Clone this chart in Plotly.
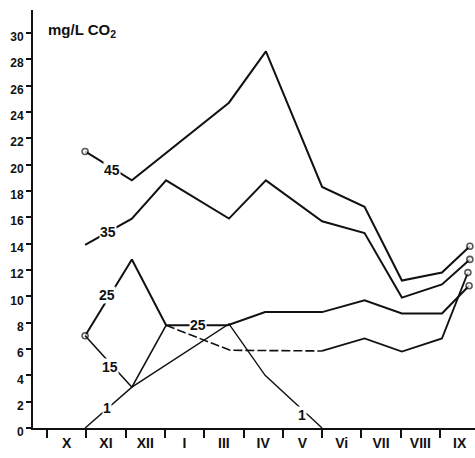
import plotly.graph_objects as go

# Month layout: tick boundaries at 0..10, labels centred between them
month_labels = ["X", "XI", "XII", "I", "III", "IV", "V", "Vi", "VII", "VIII", "IX"]
month_bounds = list(range(0, 11))
month_centres = [b + 0.5 for b in range(0, 11)]

# Series (x in month units from 1 Oct, y in mg/L CO2)
x45 = [0.97, 2.16, 4.63, 5.57, 7.0, 8.08, 9.03, 10.05, 10.76]
y45 = [21.0, 18.8, 24.7, 28.6, 18.3, 16.8, 11.2, 11.8, 13.8]

x35 = [0.97, 2.16, 3.03, 4.63, 5.57, 7.0, 8.08, 9.03, 10.05, 10.76]
y35 = [13.9, 15.9, 18.8, 15.9, 18.8, 15.7, 14.8, 9.9, 10.9, 12.8]

x25 = [0.97, 2.16, 3.03, 4.6, 5.55, 7.0, 8.08, 9.03, 10.05, 10.74]
y25 = [7.0, 12.8, 7.8, 7.8, 8.8, 8.8, 9.7, 8.7, 8.7, 10.8]

x15a = [0.97, 2.16, 3.03]
y15a = [7.0, 3.1, 7.8]
x15b = [3.03, 4.66, 7.0]
y15b = [7.8, 5.9, 5.85]
x15c = [7.0, 8.08, 9.03, 10.05, 10.71]
y15c = [5.85, 6.8, 5.8, 6.8, 11.8]

x1 = [0.97, 2.16, 4.63, 5.55, 7.0]
y1 = [0.0, 3.1, 7.9, 4.0, 0.0]

y_ticks = list(range(0, 31, 2))

INK = "#111111"
fig = go.Figure()

def line(x, y, width=2.0, dash="solid", start_marker=False, end_marker=False):
    sizes = [0] * len(x)
    if start_marker:
        sizes[0] = 6
    if end_marker:
        sizes[-1] = 6
    fig.add_trace(go.Scatter(
        x=x, y=y, mode="lines+markers",
        line=dict(color=INK, width=width, dash=dash),
        marker=dict(size=sizes, color="white", line=dict(color=INK, width=1.6)),
        showlegend=False, hoverinfo="skip", cliponaxis=False))

line(x45, y45, 2.0, start_marker=True, end_marker=True)
line(x35, y35, 2.0, end_marker=True)
line(x25, y25, 2.0, start_marker=True, end_marker=True)
line(x15a, y15a, 1.6)
line(x15b, y15b, 1.6, dash="9px,3px")
line(x15c, y15c, 1.8, end_marker=True)
line(x1, y1, 1.4)

# invisible trace for the label axis
fig.add_trace(go.Scatter(x=[0], y=[0], xaxis="x2", mode="markers",
                         marker=dict(opacity=0), showlegend=False, hoverinfo="skip"))

lab_font = dict(family="Liberation Sans", size=14, color=INK, weight="bold")
labels = [("45", 1.65, 19.6), ("35", 1.55, 14.9), ("25", 1.53, 10.1),
          ("15", 1.60, 4.6), ("1", 1.53, 1.5), ("25", 3.84, 7.8), ("1", 6.49, 1.0)]
for t, lx, ly in labels:
    fig.add_annotation(x=lx, y=ly, text=t, showarrow=False, font=lab_font,
                       bgcolor="white", borderpad=0)

fig.add_annotation(x=-0.03, y=30.2, text="mg/L CO<sub>2</sub>", showarrow=False,
                   xanchor="left", font=dict(family="Liberation Sans", size=15,
                                             color=INK, weight="bold"))

rng = [(33 - 47) / 39.3, (475 - 47) / 39.3]
fig.update_layout(
    width=475, height=458,
    margin=dict(l=33, r=0, t=10, b=30),
    paper_bgcolor="white", plot_bgcolor="white",
    xaxis=dict(range=rng, tickvals=month_bounds, showticklabels=False,
               ticks="outside", ticklen=8, tickwidth=1.5, tickcolor=INK,
               showline=True, linewidth=2, linecolor=INK, showgrid=False,
               zeroline=False),
    xaxis2=dict(range=rng, overlaying="x", side="bottom", tickvals=month_centres,
                ticktext=month_labels, ticks="", showline=False, showgrid=False,
                zeroline=False, ticklabelstandoff=5,
                tickfont=dict(family="Liberation Sans", size=14, color=INK,
                              weight="bold")),
    yaxis=dict(range=[0, (428 - 10) / 13.17], tickvals=y_ticks,
               ticks="outside", ticklen=5, tickwidth=1.5, tickcolor=INK,
               showline=True, linewidth=2, linecolor=INK, showgrid=False,
               zeroline=False, ticklabelshift=4,
               tickfont=dict(family="Liberation Sans", size=12, color=INK,
                             weight="bold")),
)

# remove the browser's default 8px body margin so the figure fills the window
fig.write_html("out.html", config={"displayModeBar": False},
               post_script="document.body.style.margin='0';document.body.style.overflow='hidden';")
